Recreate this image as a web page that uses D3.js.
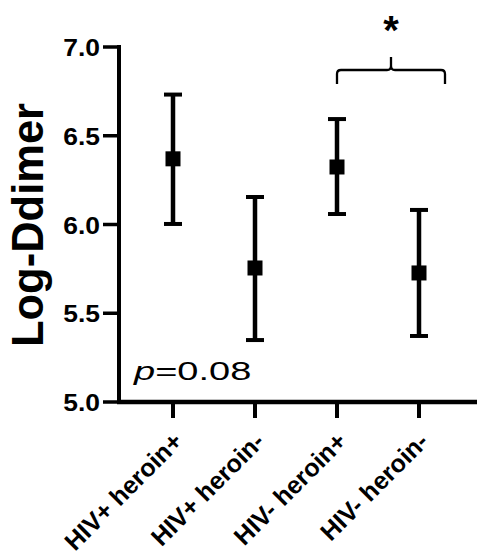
<!DOCTYPE html>
<html>
<head>
<meta charset="utf-8">
<script src="https://cdn.jsdelivr.net/npm/d3@7"></script>
<style>
  html, body { margin: 0; padding: 0; background: #fff; }
  svg { display: block; }
  text { font-family: "Liberation Sans", Arial, sans-serif; fill: #000; }
</style>
</head>
<body>
<script>
const categories = ["HIV+ heroin+", "HIV+ heroin-", "HIV- heroin+", "HIV- heroin-"];
const means = [6.37, 5.755, 6.324, 5.727];
const lowerBounds = [6.003, 5.349, 6.059, 5.372];
const upperBounds = [6.732, 6.155, 6.594, 6.082];
const yTicks = [5.0, 5.5, 6.0, 6.5, 7.0];
const yLabel = "Log-Ddimer";
const pText = "=0.08";
const sigLabel = "*";
const bracketGroups = ["HIV- heroin+", "HIV- heroin-"];

const W = 477, H = 558;
const svg = d3.select("body").append("svg").attr("width", W).attr("height", H);

const y = d3.scaleLinear().domain([5.0, 7.0]).range([402, 47]);
const x = d3.scalePoint().domain(categories).range([173, 419]);
const axisX0 = 119;

// Axes lines
svg.append("line").attr("x1", axisX0).attr("x2", axisX0)
  .attr("y1", y(7.0) - 2).attr("y2", y(5.0) + 2)
  .attr("stroke", "#000").attr("stroke-width", 4);
svg.append("line").attr("x1", axisX0 - 2).attr("x2", W)
  .attr("y1", y(5.0)).attr("y2", y(5.0))
  .attr("stroke", "#000").attr("stroke-width", 4.5);

// Y ticks
const yt = svg.append("g");
yt.selectAll("line").data(yTicks).join("line")
  .attr("x1", 103).attr("x2", axisX0)
  .attr("y1", d => y(d)).attr("y2", d => y(d))
  .attr("stroke", "#000").attr("stroke-width", 3.5);
yt.selectAll("text").data(yTicks).join("text")
  .attr("transform", d => `translate(100,${y(d) + 9}) scale(1.08,1)`)
  .attr("text-anchor", "end")
  .attr("font-size", 24.5).attr("font-weight", "bold")
  .text(d => d3.format(".1f")(d));

// X ticks
const xt = svg.append("g");
xt.selectAll("line").data(categories).join("line")
  .attr("x1", d => x(d)).attr("x2", d => x(d))
  .attr("y1", y(5.0)).attr("y2", 418)
  .attr("stroke", "#000").attr("stroke-width", 4);
xt.selectAll("text").data(categories).join("text")
  .attr("transform", d => `translate(${x(d) + 11},443) rotate(-45)`)
  .attr("text-anchor", "end")
  .attr("font-size", 25).attr("font-weight", "bold")
  .text(d => d);

// Y label
svg.append("text")
  .attr("transform", "translate(43,225) rotate(-90)")
  .attr("text-anchor", "middle")
  .attr("font-size", 43.5).attr("font-weight", "bold")
  .text(yLabel);

// Error bars with mean markers
const g = svg.append("g");
const capW = 18;
categories.forEach((c, i) => {
  const cx = x(c);
  g.append("line").attr("x1", cx).attr("x2", cx)
    .attr("y1", y(upperBounds[i])).attr("y2", y(lowerBounds[i]))
    .attr("stroke", "#000").attr("stroke-width", 4.5);
  [upperBounds[i], lowerBounds[i]].forEach(v => {
    g.append("line").attr("x1", cx - capW / 2).attr("x2", cx + capW / 2)
      .attr("y1", y(v)).attr("y2", y(v))
      .attr("stroke", "#000").attr("stroke-width", 4);
  });
  g.append("rect").attr("x", cx - 7.5).attr("y", y(means[i]) - 7.5)
    .attr("width", 15).attr("height", 15).attr("fill", "#000");
});

// p value text
const pt = svg.append("text")
  .attr("transform", "translate(134,379.5) scale(1.52,1)")
  .attr("font-size", 25);
pt.append("tspan").attr("font-style", "italic").text("p");
pt.append("tspan").text(pText);

// Significance bracket
const bx1 = x(bracketGroups[0]), bx2 = x(bracketGroups[1]) + 26;
const bm = (bx1 + bx2) / 2;
const by = 70, bEnd = 84, bTop = 57, r = 4;
const path = d3.path();
path.moveTo(bx1, bEnd);
path.lineTo(bx1, by + r);
path.quadraticCurveTo(bx1, by, bx1 + r, by);
path.lineTo(bm - r, by);
path.quadraticCurveTo(bm, by, bm, by - r);
path.lineTo(bm, bTop);
path.moveTo(bm, by - r);
path.quadraticCurveTo(bm, by, bm + r, by);
path.lineTo(bx2 - r, by);
path.quadraticCurveTo(bx2, by, bx2, by + r);
path.lineTo(bx2, bEnd);
svg.append("path").attr("d", path.toString())
  .attr("fill", "none").attr("stroke", "#000").attr("stroke-width", 2.3);

svg.append("text").attr("x", bm).attr("y", 44)
  .attr("text-anchor", "middle").attr("font-size", 40).attr("font-weight", "bold")
  .text(sigLabel);
</script>
</body>
</html>
